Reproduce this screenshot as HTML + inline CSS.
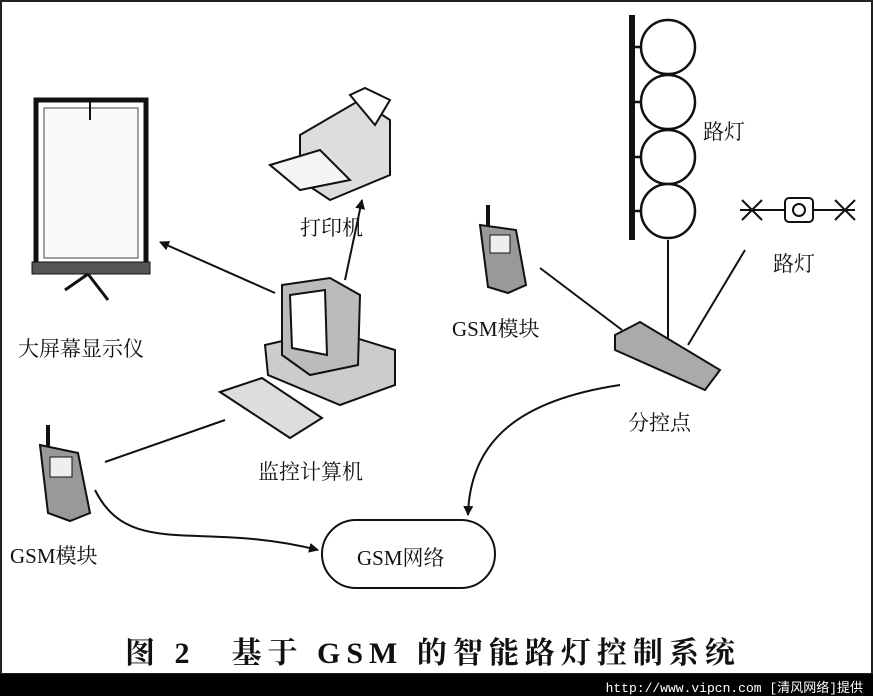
<!DOCTYPE html>
<html><head><meta charset="utf-8"><style>
html,body{margin:0;padding:0;background:#fff;}
body{width:873px;height:696px;position:relative;overflow:hidden;font-family:"Liberation Serif","Noto Serif CJK SC",serif;}
.t{position:absolute;font-size:21px;color:#111;white-space:nowrap;}
</style></head><body>
<svg width="873" height="696" style="position:absolute;left:0;top:0" xmlns="http://www.w3.org/2000/svg">
<defs><marker id="a" markerWidth="10" markerHeight="10" refX="9" refY="5" orient="auto" markerUnits="userSpaceOnUse"><path d="M0,0 L10,5 L0,10 z" fill="#111"/></marker></defs>
<rect x="1" y="1" width="871" height="673" fill="none" stroke="#222" stroke-width="2"/>
<rect x="0" y="674" width="873" height="22" fill="#000"/>
<rect x="36" y="100" width="110" height="170" fill="#fff" stroke="#111" stroke-width="5"/>
<rect x="44" y="108" width="94" height="150" fill="#fafafa" stroke="#444" stroke-width="1"/>
<rect x="32" y="262" width="118" height="12" fill="#555" stroke="#111"/>
<line x1="88" y1="274" x2="65" y2="290" stroke="#111" stroke-width="3"/>
<line x1="88" y1="274" x2="108" y2="300" stroke="#111" stroke-width="3"/>
<line x1="90" y1="100" x2="90" y2="120" stroke="#111" stroke-width="2"/>
<path d="M300,135 L360,100 L390,120 L390,175 L330,200 L300,180 Z" fill="#ddd" stroke="#111" stroke-width="2"/>
<path d="M270,165 L320,150 L350,180 L300,190 Z" fill="#f4f4f4" stroke="#111" stroke-width="2"/>
<path d="M350,95 L365,88 L390,100 L375,125 Z" fill="#fff" stroke="#111" stroke-width="2"/>
<path d="M265,345 L330,330 L395,350 L395,385 L340,405 L268,375 Z" fill="#ccc" stroke="#111" stroke-width="2"/>
<path d="M282,285 L330,278 L360,295 L358,365 L310,375 L282,355 Z" fill="#bbb" stroke="#111" stroke-width="2"/>
<path d="M290,295 L325,290 L327,355 L292,348 Z" fill="#fff" stroke="#111" stroke-width="2"/>
<path d="M220,392 L262,378 L322,418 L290,438 Z" fill="#ddd" stroke="#111" stroke-width="2"/>
<g transform="translate(478,205)"><line x1="10" y1="0" x2="10" y2="22" stroke="#111" stroke-width="4"/>
<path d="M2,20 L38,25 L48,80 L30,88 L10,82 Z" fill="#999" stroke="#111" stroke-width="2"/><rect x="12" y="30" width="20" height="18" fill="#eee" stroke="#111"/></g>
<g transform="translate(38,425)"><line x1="10" y1="0" x2="10" y2="22" stroke="#111" stroke-width="4"/>
<path d="M2,20 L40,28 L52,88 L32,96 L10,88 Z" fill="#999" stroke="#111" stroke-width="2"/><rect x="12" y="32" width="22" height="20" fill="#eee" stroke="#111"/></g>
<line x1="632" y1="15" x2="632" y2="240" stroke="#111" stroke-width="6"/>
<g fill="#fff" stroke="#111" stroke-width="2.5">
<line x1="632" y1="47" x2="642" y2="47"/><circle cx="668" cy="47" r="27"/>
<line x1="632" y1="102" x2="642" y2="102"/><circle cx="668" cy="102" r="27"/>
<line x1="632" y1="157" x2="642" y2="157"/><circle cx="668" cy="157" r="27"/>
<line x1="632" y1="211" x2="642" y2="211"/><circle cx="668" cy="211" r="27"/>
</g>
<g stroke="#111" stroke-width="2" fill="#fff">
<line x1="740" y1="210" x2="855" y2="210"/>
<path d="M742,200 L762,220 M742,220 L762,200 M835,200 L855,220 M835,220 L855,200"/>
<rect x="785" y="198" width="28" height="24" rx="4"/><circle cx="799" cy="210" r="6"/>
</g>
<path d="M615,335 L640,322 L720,370 L705,390 L615,350 Z" fill="#aaa" stroke="#111" stroke-width="2"/>
<g stroke="#111" stroke-width="2" fill="none">
<line x1="275" y1="293" x2="160" y2="242" marker-end="url(#a)"/>
<line x1="345" y1="280" x2="362" y2="200" marker-end="url(#a)"/>
<line x1="540" y1="268" x2="622" y2="330"/>
<line x1="668" y1="240" x2="668" y2="338"/>
<line x1="745" y1="250" x2="688" y2="345"/>
<line x1="225" y1="420" x2="105" y2="462"/>
<path d="M620,385 C520,400 470,440 468,515" marker-end="url(#a)"/>
<path d="M95,490 C130,560 200,520 318,550" marker-end="url(#a)"/>
</g>
<rect x="322" y="520" width="173" height="68" rx="34" fill="#fff" stroke="#111" stroke-width="2"/>
</svg>
<div class="t" style="left:300px;top:212px">打印机</div>
<div class="t" style="left:18px;top:333px">大屏幕显示仪</div>
<div class="t" style="left:452px;top:313px">GSM模块</div>
<div class="t" style="left:258px;top:456px">监控计算机</div>
<div class="t" style="left:628px;top:407px">分控点</div>
<div class="t" style="left:703px;top:116px">路灯</div>
<div class="t" style="left:773px;top:248px">路灯</div>
<div class="t" style="left:10px;top:540px">GSM模块</div>
<div class="t" style="left:357px;top:542px">GSM网络</div>
<div class="t" style="left:125px;top:628px;font-size:30px;font-weight:bold;letter-spacing:6px">图 2　基于 GSM 的智能路灯控制系统</div>
<div class="t" style="right:10px;top:677px;font-size:13px;color:#fff;font-family:'Liberation Mono','WenQuanYi Zen Hei',monospace">http://www.vipcn.com [清风网络]提供</div>
</body></html>
